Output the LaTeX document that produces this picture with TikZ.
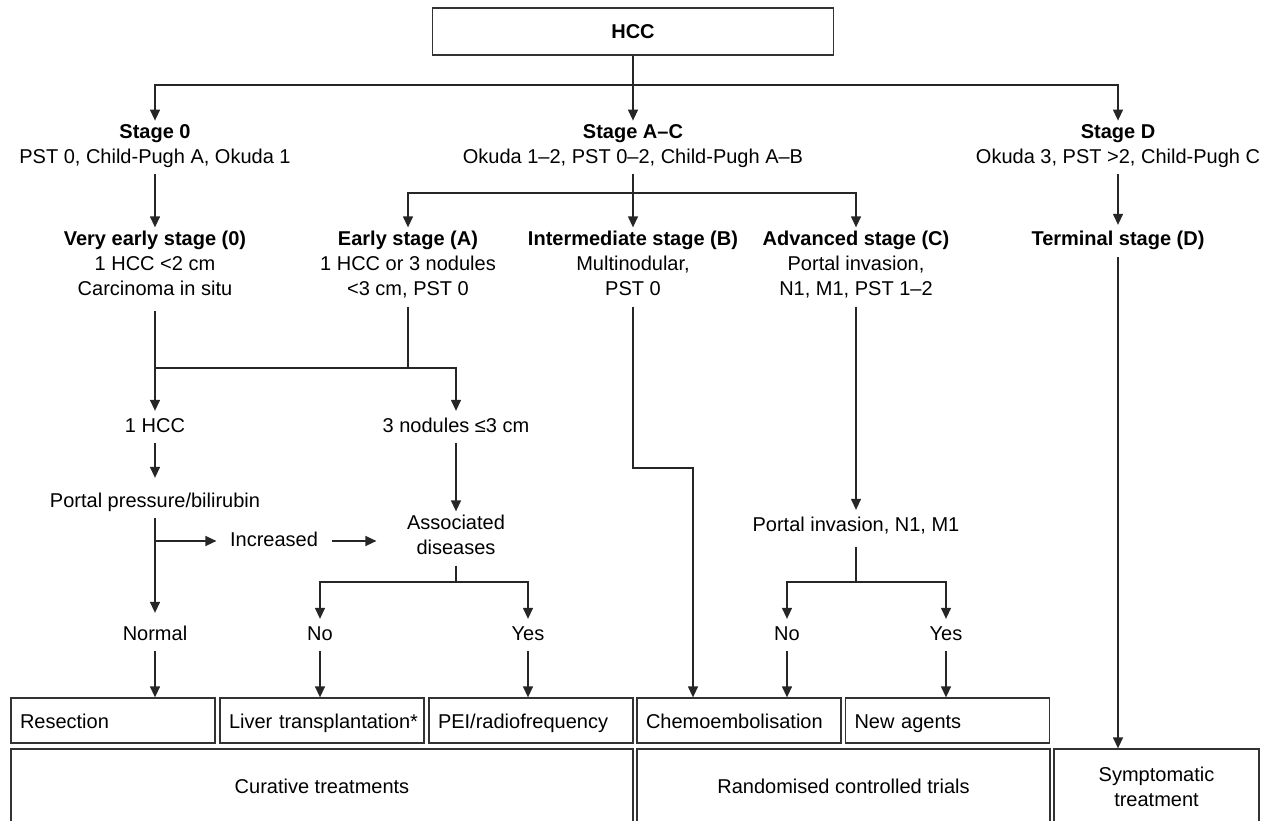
\documentclass[tikz,border=0pt]{standalone}
\usepackage{fontspec}
\setmainfont{Liberation Sans}
\usetikzlibrary{arrows.meta}

\begin{document}
\begin{tikzpicture}[x=1pt, y=-1pt, line width=1.3pt,
	font=\fontsize{20}{25}\selectfont,
	txt/.style={align=center, inner xsep=2pt, inner ysep=3pt,
		execute at begin node=\strut, execute at end node=\strut},
	tbox/.style={draw=black!80, inner xsep=9pt, inner ysep=0pt, minimum height=45pt,
		text width=186pt, text height=16pt, text depth=0pt, align=left},
	big/.style={draw=black!80, inner sep=0pt, minimum height=75pt, align=center},
	ln/.style={draw=black!85},
	arr/.style={draw=black!85, -{Triangle[length=11pt,width=10pt]}}]

	\useasboundingbox (0,0) rectangle (1270,821);

	% stages
	\node[draw=black!80, minimum width=401pt, minimum height=47pt] (hcc) at (633,31.5) {\textbf{HCC}};

	\node[txt] (s0) at (155,147.5) {\textbf{Stage 0}\\PST 0, Child-Pugh A, Okuda 1};
	\node[txt] (sac) at (633,147.5) {\textbf{Stage A–C}\\Okuda 1–2, PST 0–2, Child-Pugh A–B};
	\node[txt] (sd) at (1118,147.5) {\textbf{Stage D}\\Okuda 3, PST >2, Child-Pugh C};

	\node[txt] (ve) at (155,267) {\textbf{Very early stage (0)}\\1 HCC <2 cm\\Carcinoma in situ};
	\node[txt] (ea) at (408,267) {\textbf{Early stage (A)}\\1 HCC or 3 nodules\\<3 cm, PST 0};
	\node[txt] (ib) at (633,267) {\textbf{Intermediate stage (B)}\\Multinodular,\\PST 0};
	\node[txt] (ac) at (856,267) {\textbf{Advanced stage (C)}\\Portal invasion,\\N1, M1, PST 1–2};
	\node[txt] (td) at (1118,241) {\textbf{Terminal stage (D)}};

	% decisions
	\node[txt] (hcc1) at (155,427) {1 HCC};
	\node[txt] (nod3) at (456,427) {3 nodules ≤3 cm};
	\node[txt] (ppb) at (155,502) {Portal pressure/bilirubin};
	\node[txt, inner xsep=13pt] (incr) at (274,541) {Increased};
	\node[txt] (assoc) at (456,538.5) {Associated\\diseases};
	\node[txt] (pin) at (856,526) {Portal invasion, N1, M1};

	\node[txt] (normal) at (155,635) {Normal};
	\node[txt] (no1) at (320,635) {No};
	\node[txt] (yes1) at (528,635) {Yes};
	\node[txt] (no2) at (787,635) {No};
	\node[txt] (yes2) at (946,635) {Yes};

	% treatments
	\node[tbox] (resec) at (113,720.5) {Resection};
	\node[tbox] (liver) at (322,720.5) {\mbox{Liver transplantation*}};
	\node[tbox] (pei) at (531,720.5) {PEI/radiofrequency};
	\node[tbox] (chemo) at (739,720.5) {Chemoembolisation};
	\node[tbox] (newag) at (947.5,720.5) {New agents};

	\node[big, minimum width=622pt] (cur) at (322,786.5) {Curative treatments};
	\node[big, minimum width=413pt] (rct) at (843.5,786.5) {Randomised controlled trials};
	\node[big, minimum width=205pt] (symp) at (1156.5,786.5) {Symptomatic\\treatment};

	\coordinate (top) at (633,85);
	\coordinate (ac1) at (633,193);
	\coordinate (ea1) at (408,368);
	\coordinate (asd) at (456,582);
	\coordinate (ibk) at (693,468);
	\coordinate (pind) at (856,582);

	% connectors
	\draw[ln] (hcc.south) -- (top);
	\draw[arr] (top) -| (s0.north);
	\draw[arr] (top) -- (sac.north);
	\draw[arr] (top) -| (sd.north);

	\draw[arr] (s0.south) -- (ve.north);
	\draw[arr] (sac.south) -- (ib.north);
	\draw[arr] (ac1) -| (ea.north);
	\draw[arr] (ac1) -| (ac.north);
	\draw[arr] (sd.south) -- (td.north);

	\draw[arr, shorten <=4pt] (ve.south) -- (hcc1.north);
	\draw[ln] (ea.south) -- (ea1);
	\draw[arr] (ve.south |- ea1) -| (nod3.north);

	\draw[arr, shorten >=8pt] (hcc1.south) -- (ppb.north);
	\draw[arr, shorten >=6pt] (ppb.south) -- (normal.north);
	\draw[arr] (ppb.south |- incr.west) -- (incr.west);
	\draw[arr, shorten >=28pt] (incr.east) -- (assoc.west |- incr.east);
	\draw[arr] (nod3.south) -- (assoc.north);
	\draw[ln] (assoc.south) -- (asd);
	\draw[arr] (asd) -| (no1.north);
	\draw[arr] (asd) -| (yes1.north);

	\draw[arr] (normal.south) -- (normal.south |- resec.north);
	\draw[arr] (no1.south) -- (no1.south |- liver.north);
	\draw[arr] (yes1.south) -- (yes1.south |- pei.north);

	\draw[arr] (ib.south) |- (ibk) -- (ibk |- chemo.north);
	\draw[arr] (ac.south) -- (pin.north);
	\draw[ln, shorten <=5pt] (pin.south) -- (pind);
	\draw[arr] (pind) -| (no2.north);
	\draw[arr] (pind) -| (yes2.north);
	\draw[arr] (no2.south) -- (no2.south |- chemo.north);
	\draw[arr] (yes2.south) -- (yes2.south |- newag.north);

	\draw[arr] (td.south) -- (td.south |- symp.north);
\end{tikzpicture}
\end{document}
